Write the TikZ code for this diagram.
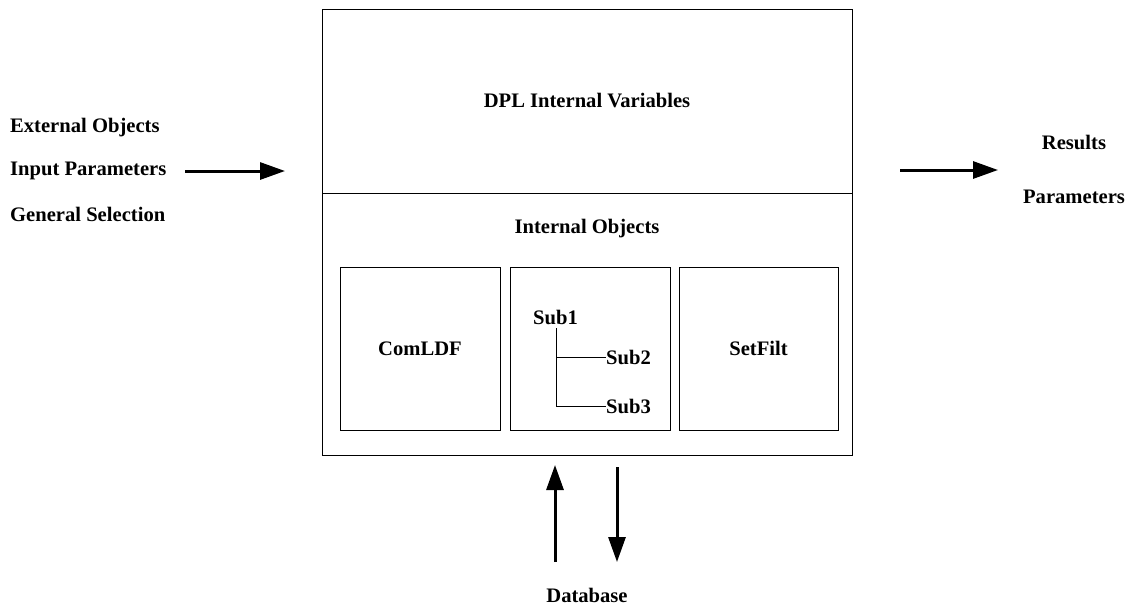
\documentclass[tikz,border=0pt]{standalone}
\usepackage{fontspec}
\setmainfont{Liberation Serif}
\usetikzlibrary{arrows.meta}
\begin{document}
\begin{tikzpicture}[x=1pt,y=-1pt,
  lbl/.style={font=\bfseries\fontsize{20.6}{24}\selectfont, inner sep=0pt},
  boxline/.style={draw=black, line width=1pt},
  bigarrow/.style={line width=3pt, -{Triangle[length=25pt,width=17pt]}},
  treeline/.style={line width=1pt}]
\useasboundingbox (0,0) rectangle (1133,606);
% outer box
\draw[boxline] (322,9) rectangle (852,455);
\draw[boxline] (322,193) -- (852,193);
\node[lbl] (dpl) at (587,101) {DPL Internal Variables};
\node[lbl] (io) at (587,229) {Internal Objects};
% inner boxes
\node[boxline, minimum width=160pt, minimum height=163pt, inner sep=0pt] (b1) at (420,348.5) {};
\node[boxline, minimum width=160pt, minimum height=163pt, inner sep=0pt] (b2) at (590,348.5) {};
\node[boxline, minimum width=159pt, minimum height=163pt, inner sep=0pt] (b3) at (758.5,348.5) {};
\node[lbl] (comldf) at (b1.center) {ComLDF};
\node[lbl] (setfilt) at (b3.center) {SetFilt};
% tree
\node[lbl, anchor=west] (sub1) at (533,317) {Sub1};
\node[lbl, anchor=west] (sub2) at (606,357) {Sub2};
\node[lbl, anchor=west] (sub3) at (606,406) {Sub3};
\coordinate (t0) at (556,328);
\draw[treeline] (t0) -- (556,406) -- (sub3.west);
\draw[treeline] (556,357) -- (sub2.west);
% left texts
\node[lbl, anchor=west] (ext) at (10,128) {External Objects};
\node[lbl, anchor=west] (inp) at (10,171) {Input Parameters};
\node[lbl, anchor=west] (gen) at (10,214) {General Selection};
\coordinate (la0) at (185,171);
\coordinate (la) at (285,171);
\draw[bigarrow] (la0) -- (la);
% right
\node[lbl] (res) at (1074,142) {Results};
\node[lbl] (par) at (1074,197) {Parameters};
\coordinate (ra0) at (900,170);
\coordinate (ra1) at (998,170);
\draw[bigarrow] (ra0) -- (ra1);
% bottom
\node[lbl] (db) at (587,595) {Database};
\coordinate (u0) at (555,562);
\coordinate (u1) at (555,465);
\coordinate (d0) at (617,467);
\coordinate (d1) at (617,562);
\draw[bigarrow] (u0) -- (u1);
\draw[bigarrow] (d0) -- (d1);
\end{tikzpicture}
\end{document}
